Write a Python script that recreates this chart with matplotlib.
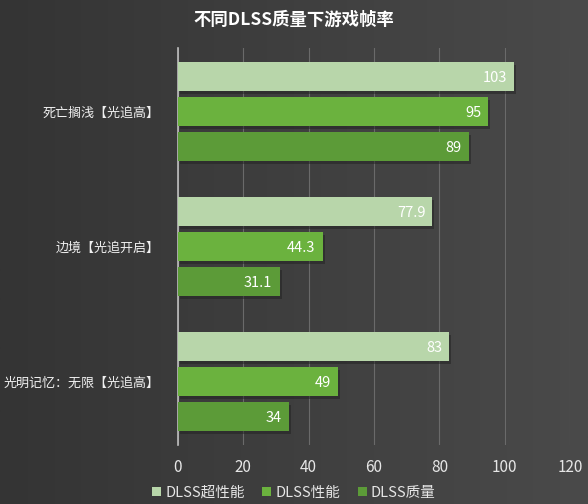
import matplotlib
matplotlib.use("Agg")
import matplotlib.pyplot as plt
import numpy as np
from matplotlib.patches import Patch
from matplotlib.colors import LinearSegmentedColormap

plt.rcParams['font.family'] = ['Noto Sans CJK SC', 'DejaVu Sans']

categories = ["死亡搁浅【光追高】", "边境【光追开启】", "光明记忆：无限【光追高】"]
series_names = ["DLSS超性能", "DLSS性能", "DLSS质量"]
ultra_perf = [103, 77.9, 83]
performance = [95, 44.3, 49]
quality = [89, 31.1, 34]
value_labels = [["103", "77.9", "83"], ["95", "44.3", "49"], ["89", "31.1", "34"]]
xticks = [0, 20, 40, 60, 80, 100, 120]
title = "不同DLSS质量下游戏帧率"

colors = ["#b8d6aa", "#6bb23e", "#5c9b38"]

fig = plt.figure(figsize=(5.88, 5.04), dpi=100)

# background gradient
bg = fig.add_axes([0, 0, 1, 1], zorder=-5)
grad = np.linspace(0, 1, 256)[None, :]
cmap = LinearSegmentedColormap.from_list("bg", ["#343434", "#4a4a4a"])
bg.imshow(grad, aspect="auto", cmap=cmap, extent=[0, 1, 0, 1])
bg.set_axis_off()

ax = fig.add_axes([178/588, 1-445/504, 392/588, 397/504])
ax.set_facecolor("none")

series = [ultra_perf, performance, quality]
offsets = [-0.26, 0.0, 0.26]
h = 0.215
y = np.arange(len(categories))
for i, (vals, off, col) in enumerate(zip(series, offsets, colors)):
    ax.barh(y + off + 0.02, vals, height=h, left=0.6, color="#222222", alpha=0.5, zorder=2)
    ax.barh(y + off, vals, height=h, color=col, zorder=3)
    for j in range(len(vals)):
        ax.text(vals[j] - 2.2, y[j] + off + 0.01, value_labels[i][j], ha="right", va="center",
                color="white", fontsize=10.5, fontweight="medium", zorder=4)

ax.set_xlim(0, 120)
ax.set_ylim(2.47, -0.47)
ax.set_xticks(xticks)
ax.set_xticklabels([str(t) for t in xticks], color="#e6e6e6", fontsize=11)
ax.set_yticks(y)
ax.set_yticklabels(categories, color="#f0f0f0", fontsize=9.4)
ax.tick_params(axis="both", length=0)
ax.tick_params(axis="y", pad=13)
ax.tick_params(axis="x", pad=10)
ax.grid(axis="x", color="#6a6a6a", linewidth=0.8, zorder=0)
ax.set_axisbelow(True)
for s in ["top", "right", "bottom"]:
    ax.spines[s].set_visible(False)
ax.spines["left"].set_color("#bdbdbd")
ax.spines["left"].set_linewidth(1.2)

fig.text(0.5, 1-20/504, title, ha="center", va="center", color="white",
         fontsize=12.5, fontweight="bold")

handles = [Patch(facecolor=c, edgecolor="none") for c in colors]
fig.legend(handles, series_names, loc="center", bbox_to_anchor=(0.5, 1-493/504),
           ncol=3, frameon=False, fontsize=10.5, labelcolor="#e6e6e6",
           handlelength=0.6, handleheight=0.6, handletextpad=0.3, columnspacing=1.2)

fig.savefig("out.png", dpi=100)
